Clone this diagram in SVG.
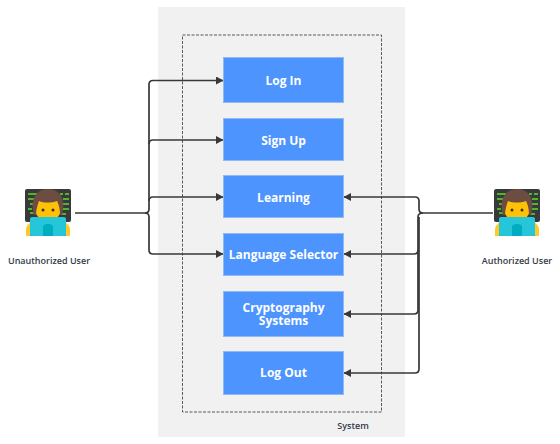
<svg xmlns="http://www.w3.org/2000/svg" width="560" height="444" viewBox="0 0 560 444">
<style>
.t{font-family:"Open Sans","Noto Sans",sans-serif}
.box{fill:#4d94ff;stroke:#8fbaf5;stroke-width:1}
.bl{font-size:12px;font-weight:700;fill:#fff;text-anchor:middle}
.lb{font-size:9px;font-weight:600;fill:#333c4a;text-anchor:middle}
.c{fill:none;stroke:#383838;stroke-width:1.700}
</style>
<defs>
<marker id="a" markerWidth="8" markerHeight="8" refX="7" refY="4" orient="auto" markerUnits="userSpaceOnUse"><path d="M0,0L7.500,4L0,8Z" fill="#383838"/></marker>
<g id="person">
<rect x="0" y="0" width="46" height="33" rx="2" fill="#37393b"/>
<g stroke="#5fdc28" stroke-width="1.300"><path d="M3,5H12M3,10H9M5,15H9M3,20H7M5,24H9M35,5H38M40,5H44M38,10H44M38,15H44M38,20H44M36,25H41"/></g>
<path d="M1,41q0,-5 5,-8l3,5l-1,9H1Z" fill="#ffca28"/><path d="M45,41q0,-5 -5,-8l-3,5l1,9h7Z" fill="#ffca28"/>
<rect x="5" y="45" width="36" height="2" fill="#00acc1"/>
<rect x="10" y="8" width="26" height="22" rx="9" fill="#ffc107"/>
<path d="M9,26C5,12 10,0 23,0S41,12 37,26L35,26C35,18 33,14 32,12C26,14 19,14 14,12C13,15 11,20 11,26Z" fill="#6d4c41"/>
<circle cx="18" cy="21" r="1.500" fill="#40302a"/><circle cx="28" cy="21" r="1.500" fill="#40302a"/>
<rect x="5" y="28" width="36" height="19" rx="2" fill="#26c6da"/>
<path d="M18,47V38q0,-3 5,-3t5,3V47Z" fill="#00acc1"/>
</g>
</defs>
<rect x="158" y="7" width="247" height="430" fill="#f1f1f1"/>
<rect x="182.500" y="35" width="199" height="377" fill="none" stroke="#333" stroke-width="0.800" stroke-dasharray="3 1.500"/>
<text class="t lb" x="353" y="429">System</text>
<g id="connectors">
<path class="c" d="M75,213H145Q149,213 149,209V84.500Q149,80.500 153,80.500H223" marker-end="url(#a)"/>
<path class="c" d="M149,144Q149,140 153,140H223" marker-end="url(#a)"/>
<path class="c" d="M149,201Q149,197 153,197H223" marker-end="url(#a)"/>
<path class="c" d="M145,213Q149,213 149,217V250Q149,254 153,254H223" marker-end="url(#a)"/>
<path class="c" d="M493,213H423Q419,213 419,209V201Q419,197 415,197H344" marker-end="url(#a)"/>
<path class="c" d="M423,213Q418,213 418,217V250Q418,254 414,254H344" marker-end="url(#a)"/>
<path class="c" d="M418,250V310Q418,314 414,314H344" marker-end="url(#a)"/>
<path class="c" d="M419,217V369Q419,373 415,373H344" marker-end="url(#a)"/>
</g>
<g id="login"><rect class="box" x="223.500" y="57.500" width="120" height="45"/><text class="t bl" x="283.500" y="85">Log In</text></g>
<g id="signup"><rect class="box" x="223.500" y="118.500" width="120" height="42"/><text class="t bl" x="283.500" y="144.500">Sign Up</text></g>
<g id="learning"><rect class="box" x="223.500" y="175.500" width="120" height="42"/><text class="t bl" x="283.500" y="201.500">Learning</text></g>
<g id="language"><rect class="box" x="223.500" y="233.500" width="120" height="42"/><text class="t bl" x="283.500" y="259">Language Selector</text></g>
<g id="crypto"><rect class="box" x="223.500" y="291.500" width="120" height="45"/><text class="t bl" x="283.500" y="312">Cryptography</text><text class="t bl" x="283.500" y="325">Systems</text></g>
<g id="logout"><rect class="box" x="223.500" y="351.500" width="120" height="43"/><text class="t bl" x="283.500" y="377">Log Out</text></g>
<g id="unauthorized"><use href="#person" x="25" y="189"/><text class="t lb" x="49" y="264">Unauthorized User</text></g>
<g id="authorized"><use href="#person" x="494" y="189"/><text class="t lb" x="517" y="264">Authorized User</text></g>
</svg>
